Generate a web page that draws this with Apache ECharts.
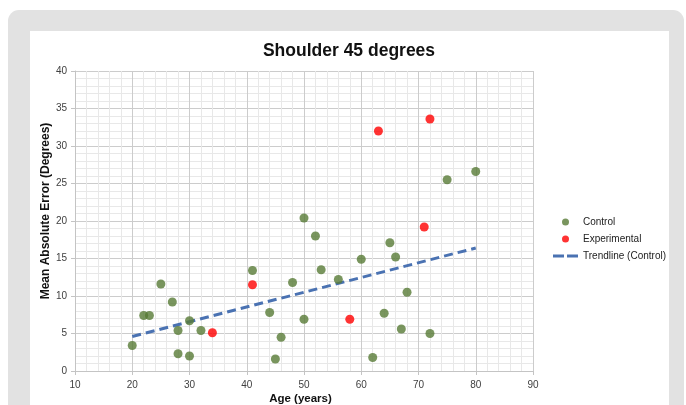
<!DOCTYPE html>
<html>
<head>
<meta charset="utf-8">
<script src="https://cdn.jsdelivr.net/npm/echarts@6/dist/echarts.min.js"></script>
<style>
  html, body { margin: 0; padding: 0; background: #ffffff; }
  .frame { position: relative; width: 686px; height: 405px; overflow: hidden; }
  .card { position: absolute; left: 8px; top: 10px; width: 676px; height: 430px; background: #e2e2e2; border-radius: 11px; }
  .panel { position: absolute; left: 30px; top: 31px; width: 639px; height: 400px; background: #ffffff; }
  #chart { position: absolute; left: 0; top: 0; width: 686px; height: 405px; }
</style>
</head>
<body>
<div class="frame">
  <div class="card"></div>
  <div class="panel"></div>
  <div id="chart"></div>
</div>
<script>
// Control group: [age, mean absolute error]
const controlAge = [20, 22, 23, 25, 27, 28, 28, 30, 30, 32, 41, 44, 45, 46, 48, 50, 50, 52, 53, 56, 60, 62, 64, 65, 66, 67, 68, 72, 75, 80];
const controlErr = [3.4, 7.4, 7.4, 11.6, 9.2, 5.4, 2.3, 6.7, 2.0, 5.4, 13.4, 7.8, 1.6, 4.5, 11.8, 20.4, 6.9, 18.0, 13.5, 12.2, 14.9, 1.8, 7.7, 17.1, 15.2, 5.6, 10.5, 5.0, 25.5, 26.6];

// Experimental group
const expAge = [34, 41, 58, 63, 71, 72];
const expErr = [5.1, 11.5, 6.9, 32.0, 19.2, 33.6];

// Trendline (Control) end points
const trendAge = [20, 80];
const trendErr = [4.6, 16.4];

const zip = (a, b) => a.map((v, i) => [v, b[i]]);

const chart = echarts.init(document.getElementById('chart'), null, { renderer: 'canvas' });

const FONT = 'Liberation Sans, Arial, sans-serif';
const axisFont = { fontFamily: FONT, fontSize: 10, color: '#404040' };

const option = {
  backgroundColor: 'transparent',
  animation: false,
  title: {
    text: 'Shoulder 45 degrees',
    left: 344,
    textAlign: 'center',
    top: 37,
    textStyle: { fontFamily: FONT, fontSize: 17.5, fontWeight: 'bold', color: '#111' }
  },
  legend: {
    orient: 'vertical',
    left: 548,
    top: 212,
    itemWidth: 25,
    itemHeight: 7,
    itemGap: 7,
    textStyle: { fontFamily: FONT, fontSize: 10, color: '#222' },
    data: [
      { name: 'Control', icon: 'circle' },
      { name: 'Experimental', icon: 'circle' },
      // two short dashes, like the dashed trendline
      { name: 'Trendline (Control)', icon: 'path://M0,0H11V3H0Z M14,0H25V3H14Z' }
    ]
  },
  grid: { left: 75, right: 153, top: 71, bottom: 34, outerBoundsMode: 'none' },
  xAxis: {
    type: 'value',
    min: 10, max: 90, interval: 10,
    name: 'Age (years)',
    nameLocation: 'middle',
    nameGap: 22,
    nameMoveOverlap: false,
    nameTextStyle: { fontFamily: FONT, fontSize: 11.5, fontWeight: 'bold', color: '#111', padding: [0, 7, 0, 0] },
    axisLine: { show: true, lineStyle: { color: '#c4c4c4' } },
    axisTick: { show: true, length: 4, lineStyle: { color: '#c4c4c4' } },
    axisLabel: { ...axisFont, margin: 9 },
    splitLine: { show: true, lineStyle: { color: '#cccccc', width: 1 } },
    minorTick: { show: false, splitNumber: 5 },
    minorSplitLine: { show: true, lineStyle: { color: '#e8e8e8', width: 1 } }
  },
  yAxis: {
    type: 'value',
    min: 0, max: 40, interval: 5,
    name: 'Mean Absolute Error (Degrees)',
    nameLocation: 'middle',
    nameGap: 23,
    nameMoveOverlap: false,
    nameTextStyle: { fontFamily: FONT, fontSize: 12, fontWeight: 'bold', color: '#111', padding: [0, 0, 0, 20] },
    axisLine: { show: true, lineStyle: { color: '#c4c4c4' } },
    axisTick: { show: true, length: 4, lineStyle: { color: '#c4c4c4' } },
    axisLabel: { ...axisFont, margin: 8 },
    splitLine: { show: true, lineStyle: { color: '#cccccc', width: 1 } },
    minorTick: { show: false, splitNumber: 5 },
    minorSplitLine: { show: true, lineStyle: { color: '#e8e8e8', width: 1 } }
  },
  series: [
    {
      name: 'Control',
      type: 'scatter',
      symbol: 'circle',
      symbolSize: 9,
      itemStyle: { color: '#587a36' },
      data: zip(controlAge, controlErr),
      z: 3
    },
    {
      name: 'Experimental',
      type: 'scatter',
      symbol: 'circle',
      symbolSize: 9,
      itemStyle: { color: '#ff0000' },
      data: zip(expAge, expErr),
      z: 3
    },
    {
      name: 'Trendline (Control)',
      type: 'line',
      showSymbol: false,
      symbol: 'none',
      lineStyle: { color: '#4a72b2', width: 3, type: [9, 5] },
      itemStyle: { color: '#4a72b2' },
      data: zip(trendAge, trendErr),
      z: 2
    }
  ]
};

chart.setOption(option);
</script>
</body>
</html>
